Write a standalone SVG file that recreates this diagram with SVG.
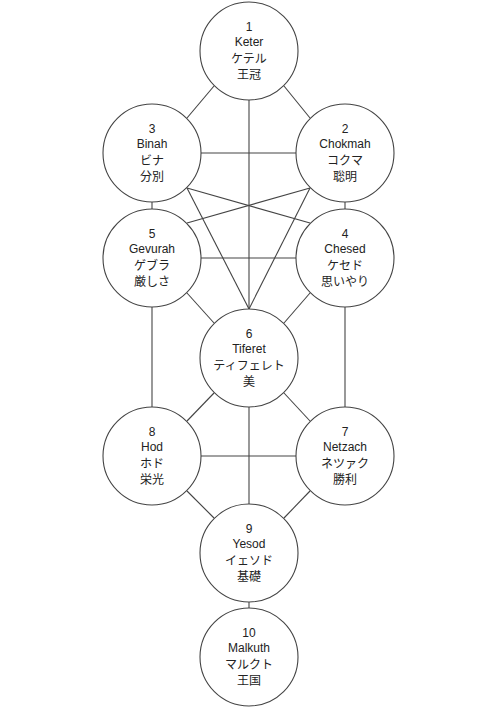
<svg xmlns="http://www.w3.org/2000/svg" width="500" height="711" viewBox="0 0 500 711">
<style>
.bg{fill:#ffffff}
.c{fill:#ffffff;stroke:#444444;stroke-width:1.1}
.e line{stroke:#444444;stroke-width:1.1}
text{font-family:"Liberation Sans","Noto Sans CJK JP",sans-serif;font-size:12px;fill:#222222;text-anchor:middle}
.j{font-family:"Noto Sans CJK JP","Liberation Sans",sans-serif}
</style>
<rect class="bg" x="0" y="0" width="500" height="711"/>
<g id="connectors" class="e">
<line x1="214" y1="86" x2="187" y2="118"/>
<line x1="284" y1="86" x2="310" y2="118"/>
<line x1="249" y1="100" x2="249" y2="309"/>
<line x1="201" y1="153" x2="296" y2="153"/>
<line x1="187" y1="188" x2="310" y2="223"/>
<line x1="310" y1="188" x2="187" y2="223"/>
<line x1="152" y1="202" x2="152" y2="209"/>
<line x1="345" y1="202" x2="345" y2="209"/>
<line x1="187" y1="188" x2="249" y2="309"/>
<line x1="310" y1="188" x2="249" y2="309"/>
<line x1="201" y1="258" x2="296" y2="258"/>
<line x1="187" y1="293" x2="214" y2="323"/>
<line x1="310" y1="293" x2="284" y2="323"/>
<line x1="152" y1="307" x2="152" y2="407"/>
<line x1="345" y1="307" x2="345" y2="407"/>
<line x1="214" y1="393" x2="187" y2="421"/>
<line x1="284" y1="393" x2="310" y2="421"/>
<line x1="249" y1="407" x2="249" y2="504"/>
<line x1="201" y1="456" x2="296" y2="456"/>
<line x1="187" y1="491" x2="214" y2="518"/>
<line x1="310" y1="491" x2="284" y2="518"/>
<line x1="249" y1="602" x2="249" y2="608"/>
</g>
<g id="keter"><circle class="c" cx="249" cy="51" r="49"/><text x="249" y="31">1</text><text x="249" y="46">Keter</text><text class="j" x="249" y="63">ケテル</text><text class="j" x="249" y="79">王冠</text></g>
<g id="binah"><circle class="c" cx="152" cy="153" r="49"/><text x="152" y="133">3</text><text x="152" y="148">Binah</text><text class="j" x="152" y="165">ビナ</text><text class="j" x="152" y="181">分別</text></g>
<g id="chokmah"><circle class="c" cx="345" cy="153" r="49"/><text x="345" y="133">2</text><text x="345" y="148">Chokmah</text><text class="j" x="345" y="165">コクマ</text><text class="j" x="345" y="181">聡明</text></g>
<g id="gevurah"><circle class="c" cx="152" cy="258" r="49"/><text x="152" y="238">5</text><text x="152" y="253">Gevurah</text><text class="j" x="152" y="270">ゲブラ</text><text class="j" x="152" y="286">厳しさ</text></g>
<g id="chesed"><circle class="c" cx="345" cy="258" r="49"/><text x="345" y="238">4</text><text x="345" y="253">Chesed</text><text class="j" x="345" y="270">ケセド</text><text class="j" x="345" y="286">思いやり</text></g>
<g id="tiferet"><circle class="c" cx="249" cy="358" r="49"/><text x="249" y="338">6</text><text x="249" y="353">Tiferet</text><text class="j" x="249" y="370">ティフェレト</text><text class="j" x="249" y="386">美</text></g>
<g id="hod"><circle class="c" cx="152" cy="456" r="49"/><text x="152" y="436">8</text><text x="152" y="451">Hod</text><text class="j" x="152" y="468">ホド</text><text class="j" x="152" y="484">栄光</text></g>
<g id="netzach"><circle class="c" cx="345" cy="456" r="49"/><text x="345" y="436">7</text><text x="345" y="451">Netzach</text><text class="j" x="345" y="468">ネツァク</text><text class="j" x="345" y="484">勝利</text></g>
<g id="yesod"><circle class="c" cx="249" cy="553" r="49"/><text x="249" y="533">9</text><text x="249" y="548">Yesod</text><text class="j" x="249" y="565">イェソド</text><text class="j" x="249" y="581">基礎</text></g>
<g id="malkuth"><circle class="c" cx="249" cy="657" r="49"/><text x="249" y="637">10</text><text x="249" y="652">Malkuth</text><text class="j" x="249" y="669">マルクト</text><text class="j" x="249" y="685">王国</text></g>
</svg>
